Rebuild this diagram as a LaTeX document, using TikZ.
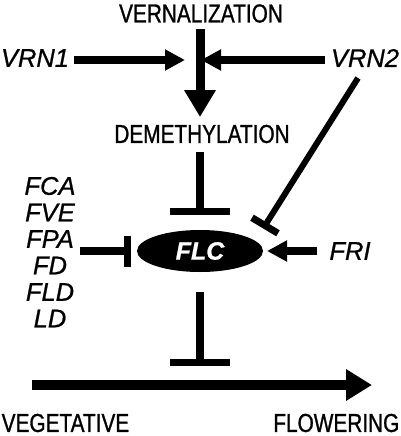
\documentclass[tikz,border=0pt]{standalone}
\usepackage{fontspec}
\usetikzlibrary{arrows.meta,shapes.geometric}
\newfontfamily\labup[FakeStretch=0.8,FakeBold=1]{Liberation Sans}
\newfontfamily\labit[FakeBold=0.8]{Liberation Sans}
\begin{document}
\begin{tikzpicture}[x=1pt,y=-1pt,
  up/.style={font=\labup\fontsize{26}{26}\selectfont, inner sep=0pt},
  it/.style={font=\labit\itshape\fontsize{25.5}{25.5}\selectfont, inner sep=0pt},
  act/.style={line width=8pt, -{Triangle[length=20pt,width=20pt]}},
  inh/.style={line width=8pt},
  barl/.style={line width=7pt}]
\useasboundingbox (0,0) rectangle (401,436);
% text nodes
\node[up] (vern) at (201,13.5) {VERNALIZATION};
\node[it] (vrn1) at (35,58) {VRN1};
\node[it] (vrn2) at (365,58) {VRN2};
\node[up] (demeth) at (202,134) {DEMETHYLATION};
\node[ellipse, fill=black, minimum width=126pt, minimum height=42pt, inner sep=0pt,
      font=\labit\bfseries\itshape\fontsize{25}{25}\selectfont, text=white] (flc) at (200,251) {FLC};
\node[it] (fri) at (350,251) {FRI};
\node[it] (fca) at (50,186) {FCA};
\node[it] (fve) at (50,212.5) {FVE};
\node[it] (fpa) at (50,239) {FPA};
\node[it] (fd) at (50,265.5) {FD};
\node[it] (fld) at (50,292) {FLD};
\node[it] (ld) at (50,318.5) {LD};
\node[up, anchor=west] (veg) at (1.5,423) {VEGETATIVE};
\node[up, anchor=east] (flow) at (399.5,423) {FLOWERING};
% coordinates
\coordinate (vtop) at (200,29);
\coordinate (vtip) at (200,117);
\coordinate (v1s) at (74,60);
\coordinate (v1e) at (185,60);
\coordinate (v2s) at (325,60);
\coordinate (v2e) at (201,60);
\coordinate (dms) at (200,152);
\coordinate (dme) at (200,211);
\coordinate (v2ls) at (358,78);
\coordinate (v2le) at (265,225.5);
\coordinate (lts) at (80,251);
\coordinate (lte) at (127,251);
\coordinate (fris) at (317,251);
\coordinate (frie) at (267,251);
\coordinate (bts) at (200,292);
\coordinate (bte) at (200,362);
\coordinate (axs) at (32,385);
\coordinate (axe) at (372,385);
% connectors
\draw[line width=9pt, -{Triangle[length=27pt,width=30pt]}] (vtop) -- (vtip);
\draw[act] (v1s) -- (v1e);
\draw[act] (v2s) -- (v2e);
\draw[inh] (dms) -- (dme);
\draw[barl] (dme) ++(-30,0) -- ++(60,0);
\draw[line width=6pt] (v2ls) -- (v2le);
\draw[barl] (v2le) ++(-13,-7.8) -- ++(26,15.6);
\draw[inh] (lts) -- (lte);
\draw[barl] (lte) ++(0,-15.5) -- ++(0,31);
\draw[act] (fris) -- (frie);
\draw[inh] (bts) -- (bte);
\draw[barl] (bte) ++(-30,0) -- ++(60,0);
\draw[line width=10pt, -{Triangle[length=26pt,width=30pt]}] (axs) -- (axe);
\end{tikzpicture}
\end{document}
